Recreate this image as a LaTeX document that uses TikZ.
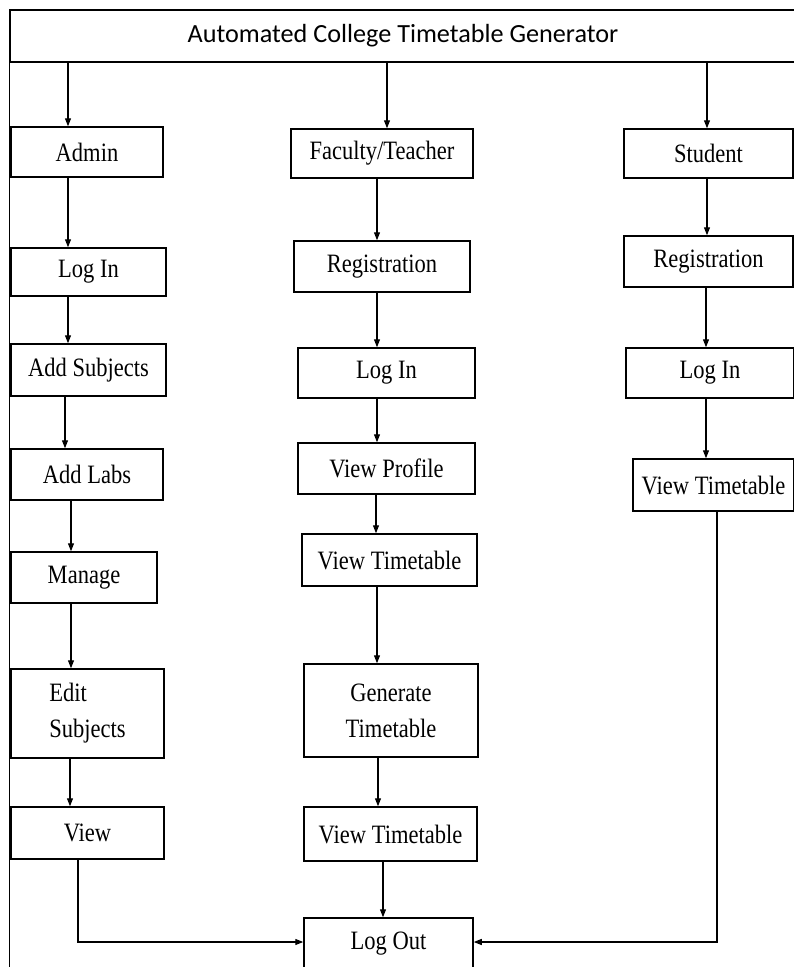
\documentclass[tikz,border=0pt]{standalone}
\usepackage{fontspec}
\usepackage{graphicx}
\setmainfont{Liberation Serif}
\newfontfamily\titlefont{Carlito}
\usetikzlibrary{arrows.meta}
\newcommand{\sq}[1]{\scalebox{0.85}[1]{#1}}
\begin{document}
\begin{tikzpicture}[x=1pt,y=-1pt,
  box/.style={draw,line width=1.5pt,inner sep=0pt,align=center,
    font=\fontsize{26.5}{36}\selectfont},
  arr/.style={line width=1.2pt,-{Triangle[length=8pt,width=6pt]}},
  frame/.style={line width=1.5pt}]
\useasboundingbox (0,0) rectangle (794,967);
\fill[white] (0,0) rectangle (794,967);

% helper coordinates
\foreach \x in {68,65,71,70,78,377,376,378,383,387,707,706,717}
  \coordinate (c\x) at (\x,0);
\coordinate (yL) at (0,942);

% title bar and frame
\node[draw,frame,inner sep=0pt,minimum width=786pt,minimum height=52pt,
  font=\titlefont\fontsize{26.2}{30}\selectfont] (title) at (403,36)
  {Automated College Timetable Generator};
\draw[frame] (title.south west) -- ++(0,910);

% admin column
\node[box,minimum width=152pt,minimum height=50pt] (admin)   at (87,152)    {\sq{Admin}};
\node[box,minimum width=155pt,minimum height=48pt] (alogin)  at (88.5,272)  {\sq{Log In}};
\node[box,minimum width=155pt,minimum height=52pt] (addsub)  at (88.5,370)  {\sq{Add Subjects}};
\node[box,minimum width=152pt,minimum height=51pt] (addlabs) at (87,474.5)  {\sq{Add Labs}};
\node[box,minimum width=146pt,minimum height=51pt] (manage)  at (84,577.5)  {\sq{Manage}};
\node[box,minimum width=153pt,minimum height=89pt,align=left] (edit) at (87.5,713.5) {\sq{Edit}\\\sq{Subjects}};
\node[box,minimum width=153pt,minimum height=52pt] (view)    at (87.5,833)  {\sq{View}};

% faculty column
\node[box,minimum width=182pt,minimum height=49pt] (fac)    at (382,153.5)  {\sq{Faculty/Teacher}};
\node[box,minimum width=176pt,minimum height=51pt] (freg)   at (382,266.5)  {\sq{Registration}};
\node[box,minimum width=177pt,minimum height=50pt] (flogin) at (386.5,373)  {\sq{Log In}};
\node[box,minimum width=177pt,minimum height=51pt] (fprof)  at (386.5,468.5){\sq{View Profile}};
\node[box,minimum width=175pt,minimum height=52pt] (fvt1)   at (389.5,560)  {\sq{View Timetable}};
\node[box,minimum width=174pt,minimum height=93pt] (gen)    at (391,710.5)  {\sq{Generate}\\\sq{Timetable}};
\node[box,minimum width=173pt,minimum height=54pt] (fvt2)   at (390.5,834)  {\sq{View Timetable}};
\node[box,minimum width=169pt,minimum height=52pt] (logout) at (388.5,944)  {\sq{Log Out}};

% student column
\node[box,minimum width=169pt,minimum height=49pt] (stu)    at (708.5,153.5){\sq{Student}};
\node[box,minimum width=169pt,minimum height=51pt] (sreg)   at (708.5,261.5){\sq{Registration}};
\node[box,minimum width=168pt,minimum height=50pt] (slogin) at (710,373)    {\sq{Log In}};
\node[box,minimum width=161pt,minimum height=52pt] (svt)    at (713.5,485)  {\sq{View Timetable}};

% arrows from title
\draw[arr] (title.south -| c68)  -- (admin.north -| c68);
\draw[arr] (title.south -| c387) -- (fac.north -| c387);
\draw[arr] (title.south -| c707) -- (stu.north -| c707);

% admin arrows
\draw[arr] (admin.south -| c68)   -- (alogin.north -| c68);
\draw[arr] (alogin.south -| c68)  -- (addsub.north -| c68);
\draw[arr] (addsub.south -| c65)  -- (addlabs.north -| c65);
\draw[arr] (addlabs.south -| c71) -- (manage.north -| c71);
\draw[arr] (manage.south -| c71)  -- (edit.north -| c71);
\draw[arr] (edit.south -| c70)    -- (view.north -| c70);
\draw[arr] (view.south -| c78) |- (logout.west |- yL);

% faculty arrows
\draw[arr] (fac.south -| c377)    -- (freg.north -| c377);
\draw[arr] (freg.south -| c377)   -- (flogin.north -| c377);
\draw[arr] (flogin.south -| c377) -- (fprof.north -| c377);
\draw[arr] (fprof.south -| c376)  -- (fvt1.north -| c376);
\draw[arr] (fvt1.south -| c377)   -- (gen.north -| c377);
\draw[arr] (gen.south -| c378)    -- (fvt2.north -| c378);
\draw[arr] (fvt2.south -| c383)   -- (logout.north -| c383);

% student arrows
\draw[arr] (stu.south -| c707)    -- (sreg.north -| c707);
\draw[arr] (sreg.south -| c706)   -- (slogin.north -| c706);
\draw[arr] (slogin.south -| c706) -- (svt.north -| c706);
\draw[arr] (svt.south -| c717) |- (logout.east |- yL);
\end{tikzpicture}
\end{document}
